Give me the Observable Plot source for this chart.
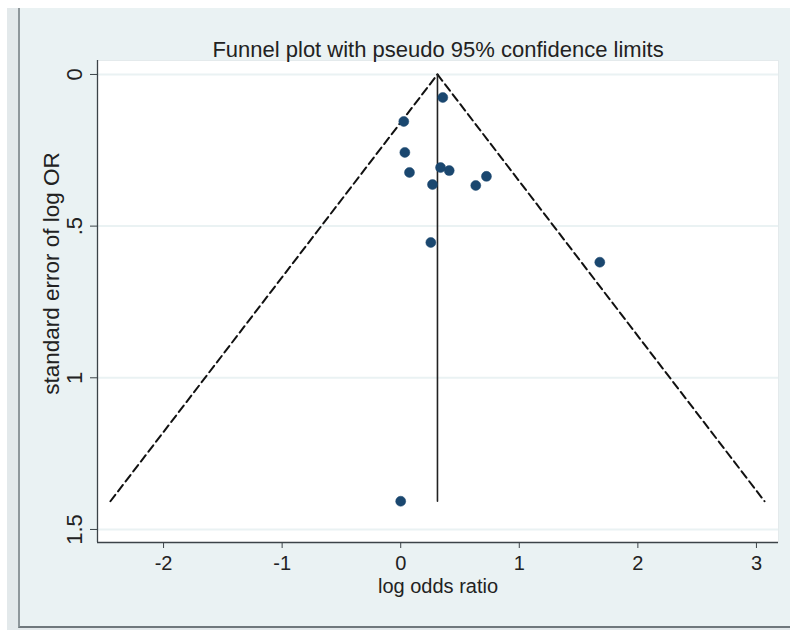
<!DOCTYPE html>
<html>
<head>
<meta charset="utf-8">
<script src="https://cdn.jsdelivr.net/npm/d3@7"></script>
<script src="https://cdn.jsdelivr.net/npm/@observablehq/plot@0.6"></script>
<style>
  html, body { margin: 0; padding: 0; background: #ffffff; }
  body { width: 790px; height: 631px; overflow: hidden; position: relative; font-family: "Liberation Sans", Arial, sans-serif; }
  #outer { position: absolute; left: 7px; top: 8px; width: 783px; height: 622px; background: #e3e9eb; }
  #inner { position: absolute; left: 18px; top: 8px; width: 772px; height: 620px; background: #eaf2f3;
           border-left: 2px solid #8e979b; border-bottom: 2px solid #6f787c; box-sizing: border-box; }
  #chart { position: absolute; left: 0; top: 0; }
</style>
</head>
<body>
<div id="outer"></div>
<div id="inner"></div>
<div id="chart"></div>
<script>
// ---- data ----
const logOddsRatio = [0.355, 0.026, 0.035, 0.074, 0.336, 0.409, 0.268, 0.633, 0.723, 0.254, 1.679, 0.000];
const seLogOR      = [0.076, 0.155, 0.257, 0.323, 0.307, 0.317, 0.363, 0.366, 0.336, 0.554, 0.619, 1.407];
const pooledEstimate = 0.31;
const funnelLeftX  = [-2.448, 0.31];
const funnelRightX = [0.31, 3.068];
const funnelSE     = [1.407, 0];
const xTicks = [-2, -1, 0, 1, 2, 3];
const xTickLabels = ["-2", "-1", "0", "1", "2", "3"];
const yTicks = [0, 0.5, 1, 1.5];
const yTickLabels = ["0", ".5", "1", "1.5"];
const xDomain = [-2.557, 3.186];
const yDomain = [-0.046, 1.543];
const titleText = "Funnel plot with pseudo 95% confidence limits";
const xLabel = "log odds ratio";
const yLabel = "standard error of log OR";

const points = logOddsRatio.map((x, i) => ({x, se: seLogOR[i]}));
const leftLine = funnelLeftX.map((x, i) => ({x, se: funnelSE[i]}));
const rightLine = funnelRightX.map((x, i) => ({x, se: funnelSE[funnelSE.length - 1 - i]}));
const centerLine = [{x: pooledEstimate, se: 0}, {x: pooledEstimate, se: funnelSE[0]}];

const font = "'Liberation Sans', Arial, sans-serif";
const axisColor = "#3c4348";

const chart = Plot.plot({
  width: 790,
  height: 631,
  marginLeft: 97,
  marginRight: 12,
  marginTop: 60,
  marginBottom: 89,
  style: { background: "transparent", fontFamily: font, fontSize: "20px", color: "#222" },
  x: { domain: xDomain },
  y: { domain: yDomain, reverse: true },
  marks: [
    Plot.frame({ fill: "white", stroke: "#e4eaec" }),
    Plot.gridY(yTicks, { stroke: "#eaf2f3", strokeOpacity: 1, strokeWidth: 2 }),
    Plot.ruleX([xDomain[0]], { stroke: axisColor, strokeWidth: 1.3 }),
    Plot.ruleY([yDomain[1]], { stroke: axisColor, strokeWidth: 1.3 }),
    Plot.axisX(xTicks, { tickSize: 6, tickPadding: 7, tickFormat: (d, i) => xTickLabels[i], label: null, stroke: axisColor, fill: "#222", fontSize: 20 }),
    Plot.axisY(yTicks, { tickSize: 7, tickFormat: (d, i) => yTickLabels[i], tickRotate: -90, tickPadding: 9, label: null, stroke: axisColor, fill: "#222", fontSize: 22 }),
    Plot.text([xLabel], { frameAnchor: "bottom", dy: 50, fontSize: 20, fill: "#222" }),
    Plot.text([yLabel], { frameAnchor: "left", textAnchor: "middle", dx: -46, dy: -28, rotate: -90, fontSize: 22.5, fill: "#222" }),
    Plot.text([titleText], { frameAnchor: "top", dy: -19, fontSize: 22, fill: "#222" }),
    Plot.line(leftLine, { x: "x", y: "se", stroke: "#111", strokeWidth: 2, strokeDasharray: "8,4.5" }),
    Plot.line(rightLine, { x: "x", y: "se", stroke: "#111", strokeWidth: 2, strokeDasharray: "8,4.5" }),
    Plot.line(centerLine, { x: "x", y: "se", stroke: "#222", strokeWidth: 1.6 }),
    Plot.dot(points, { x: "x", y: "se", r: 5, fill: "#1a476f", stroke: "#1a476f", strokeWidth: 0.5 })
  ]
});
document.getElementById("chart").appendChild(chart);
</script>
</body>
</html>
